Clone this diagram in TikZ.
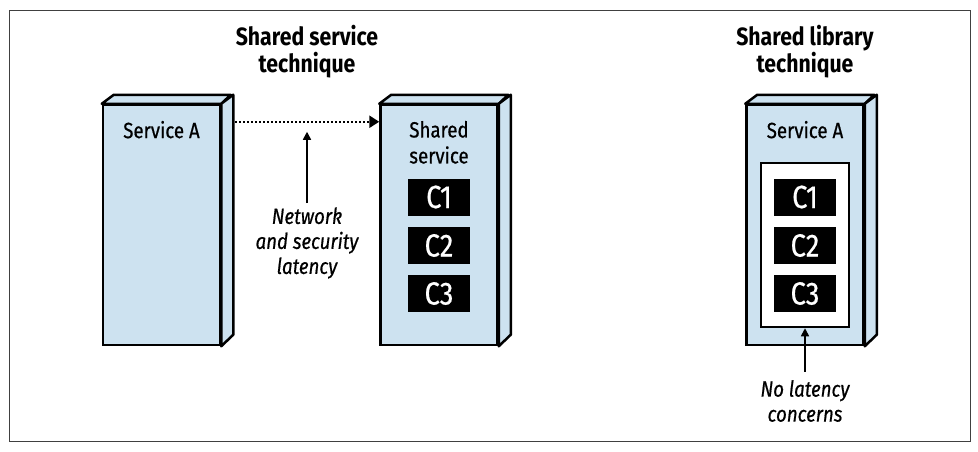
\documentclass[tikz,border=0pt]{standalone}
\usepackage{fontspec}
\setmainfont{Fira Sans}[FakeStretch=0.85, UprightFeatures={FakeBold=0.6},
  ItalicFeatures={FakeBold=0.6}]
\usetikzlibrary{arrows.meta,positioning}

\definecolor{slabblue}{RGB}{205,226,240}

\tikzset{
  front/.style = {draw, fill=slabblue, line width=2.5pt, minimum width=117pt,
                  minimum height=240pt, inner sep=0pt},
  slab/.style = {draw, fill=slabblue, line width=2.5pt, line join=round},
  libbox/.style = {draw, fill=white, line width=2.5pt, minimum width=88pt,
                   minimum height=164pt, inner sep=0pt},
  comp/.style = {fill=black, text=white, minimum width=62pt, minimum height=37pt,
                 inner sep=0pt, font=\fontsize{32}{32}\selectfont},
  lbl/.style = {inner sep=0pt, align=center, font=\fontsize{22}{26}\selectfont},
  note/.style = {inner sep=0pt, align=center, font=\fontsize{22}{25}\selectfont\itshape},
  title/.style = {inner sep=0pt, align=center, font=\fontsize{25}{27}\selectfont\bfseries},
  pointer/.style = {-{Triangle[length=8pt,width=8pt]}, line width=1.6pt}
}

\begin{document}
\begin{tikzpicture}[x=1pt, y=-1pt]

\useasboundingbox (0,0) rectangle (978,451);

% frame
\draw [black!75, line width=1pt] (9,10) rectangle (970,441);

% titles
\node [title] (titleA) at (307,52) {Shared service\\technique};
\node [title] (titleB) at (805,52) {Shared library\\technique};

% service A
\node [front] (svcA) at (161.5,225) {};
\draw [slab] (svcA.north west) -- ++(12,-9) -- ++(117,0) -- (svcA.north east) -- cycle;
\draw [slab] (svcA.north east) -- ++(12,-9) -- ++(0,240) -- (svcA.south east) -- cycle;
\node [lbl, anchor=north] at ([yshift=-17pt]svcA.north) {Service A};

% shared service
\node [front] (shared) at (439,225) {};
\draw [slab] (shared.north west) -- ++(12,-9) -- ++(117,0) -- (shared.north east) -- cycle;
\draw [slab] (shared.north east) -- ++(12,-9) -- ++(0,240) -- (shared.south east) -- cycle;
\node [lbl, anchor=north] (sharedlbl) at ([yshift=-17pt]shared.north) {Shared\\service};
\node [comp] (c1) at (439,197) {C1};
\node [comp] (c2) at (439,245.5) {C2};
\node [comp] (c3) at (439,293.5) {C3};

% service A with the library
\node [front] (libA) at (805,225) {};
\draw [slab] (libA.north west) -- ++(12,-9) -- ++(117,0) -- (libA.north east) -- cycle;
\draw [slab] (libA.north east) -- ++(12,-9) -- ++(0,240) -- (libA.south east) -- cycle;
\node [lbl, anchor=north] at ([yshift=-17pt]libA.north) {Service A};
\node [libbox] (lib) at (805,245) {};
\node [comp] (l1) at (805,197) {C1};
\node [comp] (l2) at (805,245.5) {C2};
\node [comp] (l3) at (805,293.5) {C3};

% network call
\coordinate (dotL) at ([xshift=14pt,yshift=-18pt]svcA.north east);
\draw [-{Triangle[length=10pt,width=12pt]}, line width=2.5pt, dash pattern=on 2pt off 2pt]
  (dotL) -- (shared.west |- dotL);

% notes
\node [note] (netlbl) at (307,243) {Network\\and security\\latency};
\draw [pointer, shorten >=10pt] (netlbl.north) ++(0,-4) -- (netlbl.north |- dotL);

\node [note] (nolat) at (805,401) {No latency\\concerns};
\draw [pointer] ([yshift=8pt]nolat.north) -- (lib.south);

\end{tikzpicture}
\end{document}
